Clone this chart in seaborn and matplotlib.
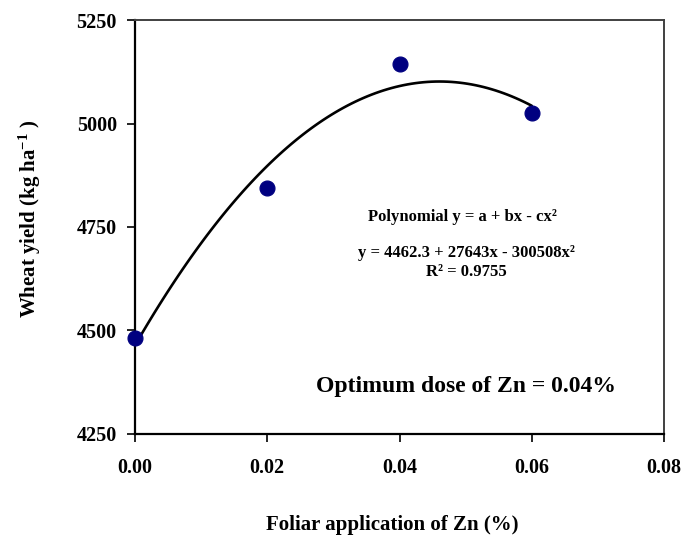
import matplotlib
matplotlib.use('Agg')
import matplotlib.pyplot as plt
import seaborn as sns
import pandas as pd
from matplotlib.ticker import FormatStrFormatter

zn_dose = [0.00, 0.02, 0.04, 0.06]
wheat_yield = [4482, 4844, 5144, 5025]
x_ticks = [0.00, 0.02, 0.04, 0.06, 0.08]
y_ticks = [4250, 4500, 4750, 5000, 5250]

df = pd.DataFrame({'zn': zn_dose, 'yield': wheat_yield})

sns.set_style('ticks')
plt.rcParams['font.family'] = ['Liberation Serif', 'DejaVu Serif']
plt.rcParams['font.weight'] = 'bold'
plt.rcParams['text.color'] = 'black'
plt.rcParams['axes.labelcolor'] = 'black'
plt.rcParams['mathtext.fontset'] = 'custom'
plt.rcParams['mathtext.rm'] = 'Liberation Serif:bold'
plt.rcParams['mathtext.bf'] = 'Liberation Serif:bold'
plt.rcParams['mathtext.it'] = 'Liberation Serif:bold'

fig = plt.figure(figsize=(6.84, 5.49), dpi=100)
ax = fig.add_axes([135 / 684, 1 - 434 / 549, 529 / 684, 414 / 549])

# second order trend line, like the excel one
sns.regplot(data=df, x='zn', y='yield', order=2, ci=None, scatter=False,
            truncate=True, color='black', line_kws={'linewidth': 1.9}, ax=ax)
sns.scatterplot(data=df, x='zn', y='yield', color='#000080', s=115,
                edgecolor='#000080', zorder=5, clip_on=False, ax=ax)

ax.set_xlim(0, 0.08)
ax.set_ylim(4250, 5250)
ax.set_xticks(x_ticks)
ax.set_yticks(y_ticks)
ax.xaxis.set_major_formatter(FormatStrFormatter('%.2f'))
ax.tick_params(axis='both', direction='out', length=6, width=1.2, colors='black',
               labelsize=14.5, top=False, right=False)
ax.tick_params(axis='x', pad=11)
ax.tick_params(axis='y', pad=7)
for lbl in ax.get_xticklabels() + ax.get_yticklabels():
    lbl.set_fontweight('bold')

for side in ['left', 'bottom']:
    ax.spines[side].set_color('black')
    ax.spines[side].set_linewidth(1.6)
for side in ['top', 'right']:
    ax.spines[side].set_visible(True)
    ax.spines[side].set_color('#404040')
    ax.spines[side].set_linewidth(1.4)

ax.set_xlabel('Foliar application of Zn (%)', fontsize=15, fontweight='bold', va='center')
ax.xaxis.set_label_coords(0.486, -0.22)
ax.set_ylabel('Wheat yield (kg ha$^{-1}$ )', fontsize=15, fontweight='bold', va='center')
ax.yaxis.set_label_coords(-0.198, 0.519)

ax.text(0.6195, 0.525, 'Polynomial y = a + bx - cx²', transform=ax.transAxes,
        ha='center', va='center', fontsize=12, fontweight='bold')
ax.text(0.627, 0.438, 'y = 4462.3 + 27643x - 300508x²', transform=ax.transAxes,
        ha='center', va='center', fontsize=12, fontweight='bold')
ax.text(0.627, 0.392, 'R² = 0.9755', transform=ax.transAxes,
        ha='center', va='center', fontsize=12, fontweight='bold')
ax.text(0.626, 0.114, 'Optimum dose of Zn = 0.04%', transform=ax.transAxes,
        ha='center', va='center', fontsize=17, fontweight='bold')

fig.savefig('out.png', dpi=100)
